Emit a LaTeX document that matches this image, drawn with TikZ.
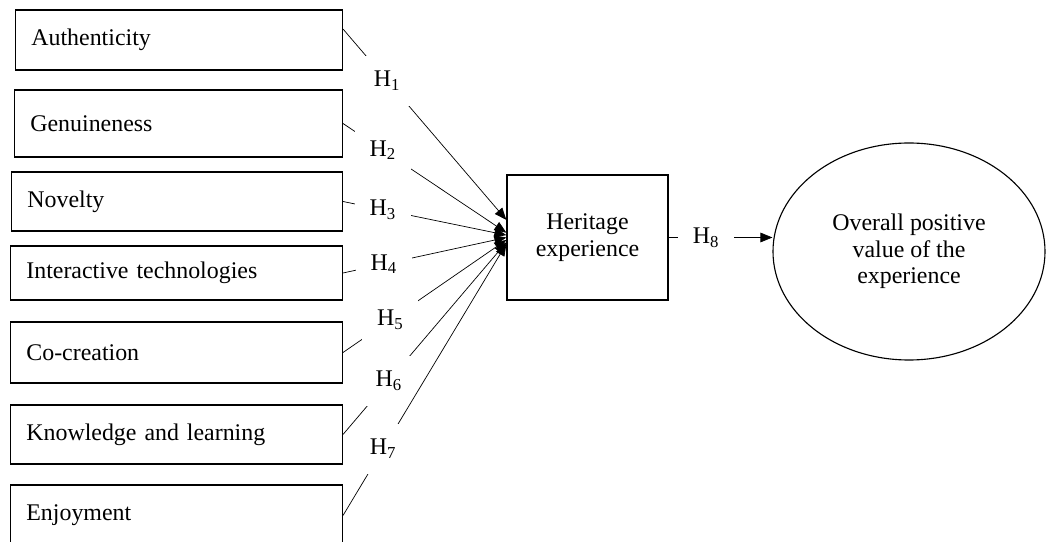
\documentclass[tikz,border=0pt]{standalone}
\usepackage{fontspec}
\setmainfont{Liberation Serif}
\usetikzlibrary{
    arrows.meta,
    shapes.geometric,
    positioning
}

\begin{document}
\begin{tikzpicture}[
        every node/.style={font=\fontsize{17}{19}\selectfont},
        factor/.style={draw, line width=0.9pt, anchor=east, align=left, text width=#1, inner xsep=0.4cm, inner ysep=0pt},
        factor/.default=7.5cm,
        hyp/.style={fill=white, minimum width=1.4cm, minimum height=1.25cm, inner sep=0pt},
        link/.style={line width=0.5pt, -{Triangle[length=3mm, width=2.4mm]}}
    ]
    \useasboundingbox (0, 0) rectangle (26.175, -13.55);

    \node[factor=7.375cm, minimum height=1.5cm] (auth) at (8.575, -1.0) {Authenticity};
    \node[factor=7.4cm, minimum height=1.675cm] (gen) at (8.575, -3.0875) {Genuineness};
    \node[factor=7.475cm, minimum height=1.475cm] (nov) at (8.575, -5.0375) {Novelty};
    \node[factor, minimum height=1.35cm] (tech) at (8.575, -6.825) {Interactive technologies};
    \node[factor, minimum height=1.525cm] (cocr) at (8.575, -8.8125) {Co-creation};
    \node[factor, minimum height=1.475cm] (know) at (8.575, -10.8625) {Knowledge and learning};
    \node[factor, minimum height=1.525cm] (enj) at (8.575, -12.8875) {Enjoyment};

    \node[draw, line width=0.9pt, minimum width=4.025cm, minimum height=3.125cm, align=center] (her) at (14.6875, -5.9375) {Heritage\\experience};
    \node[ellipse, draw, line width=0.8pt, minimum width=6.8cm, minimum height=5.425cm, inner sep=0pt, align=center] (ov) at (22.725, -6.2875) {Overall positive\\value of the\\experience};

    \draw[link] ([yshift=0.275cm]auth.east) -- node[hyp, pos=0.27] (h1) {H\textsubscript{1}} ([yshift=0.44cm]her.west);
    \draw[link] (gen.east) -- node[hyp, pos=0.244] (h2) {H\textsubscript{2}} ([yshift=0.12cm]her.west);
    \draw[link] (nov.east) -- node[hyp, pos=0.244] (h3) {H\textsubscript{3}} ([yshift=0.06cm]her.west);
    \draw[link] (tech.east) -- node[hyp, pos=0.25] (h4) {H\textsubscript{4}} (her.west);
    \draw[link] (cocr.east) -- node[hyp, pos=0.29] (h5) {H\textsubscript{5}} ([yshift=-0.06cm]her.west);
    \draw[link] (know.east) -- node[hyp, pos=0.28] (h6) {H\textsubscript{6}} ([yshift=-0.12cm]her.west);
    \draw[link] (enj.east) -- node[hyp, pos=0.245] (h7) {H\textsubscript{7}} ([yshift=-0.16cm]her.west);

    \draw[link] (her.east) -- node[hyp, pos=0.36] (h8) {H\textsubscript{8}} (her.east -| ov.west);
\end{tikzpicture}
\end{document}
